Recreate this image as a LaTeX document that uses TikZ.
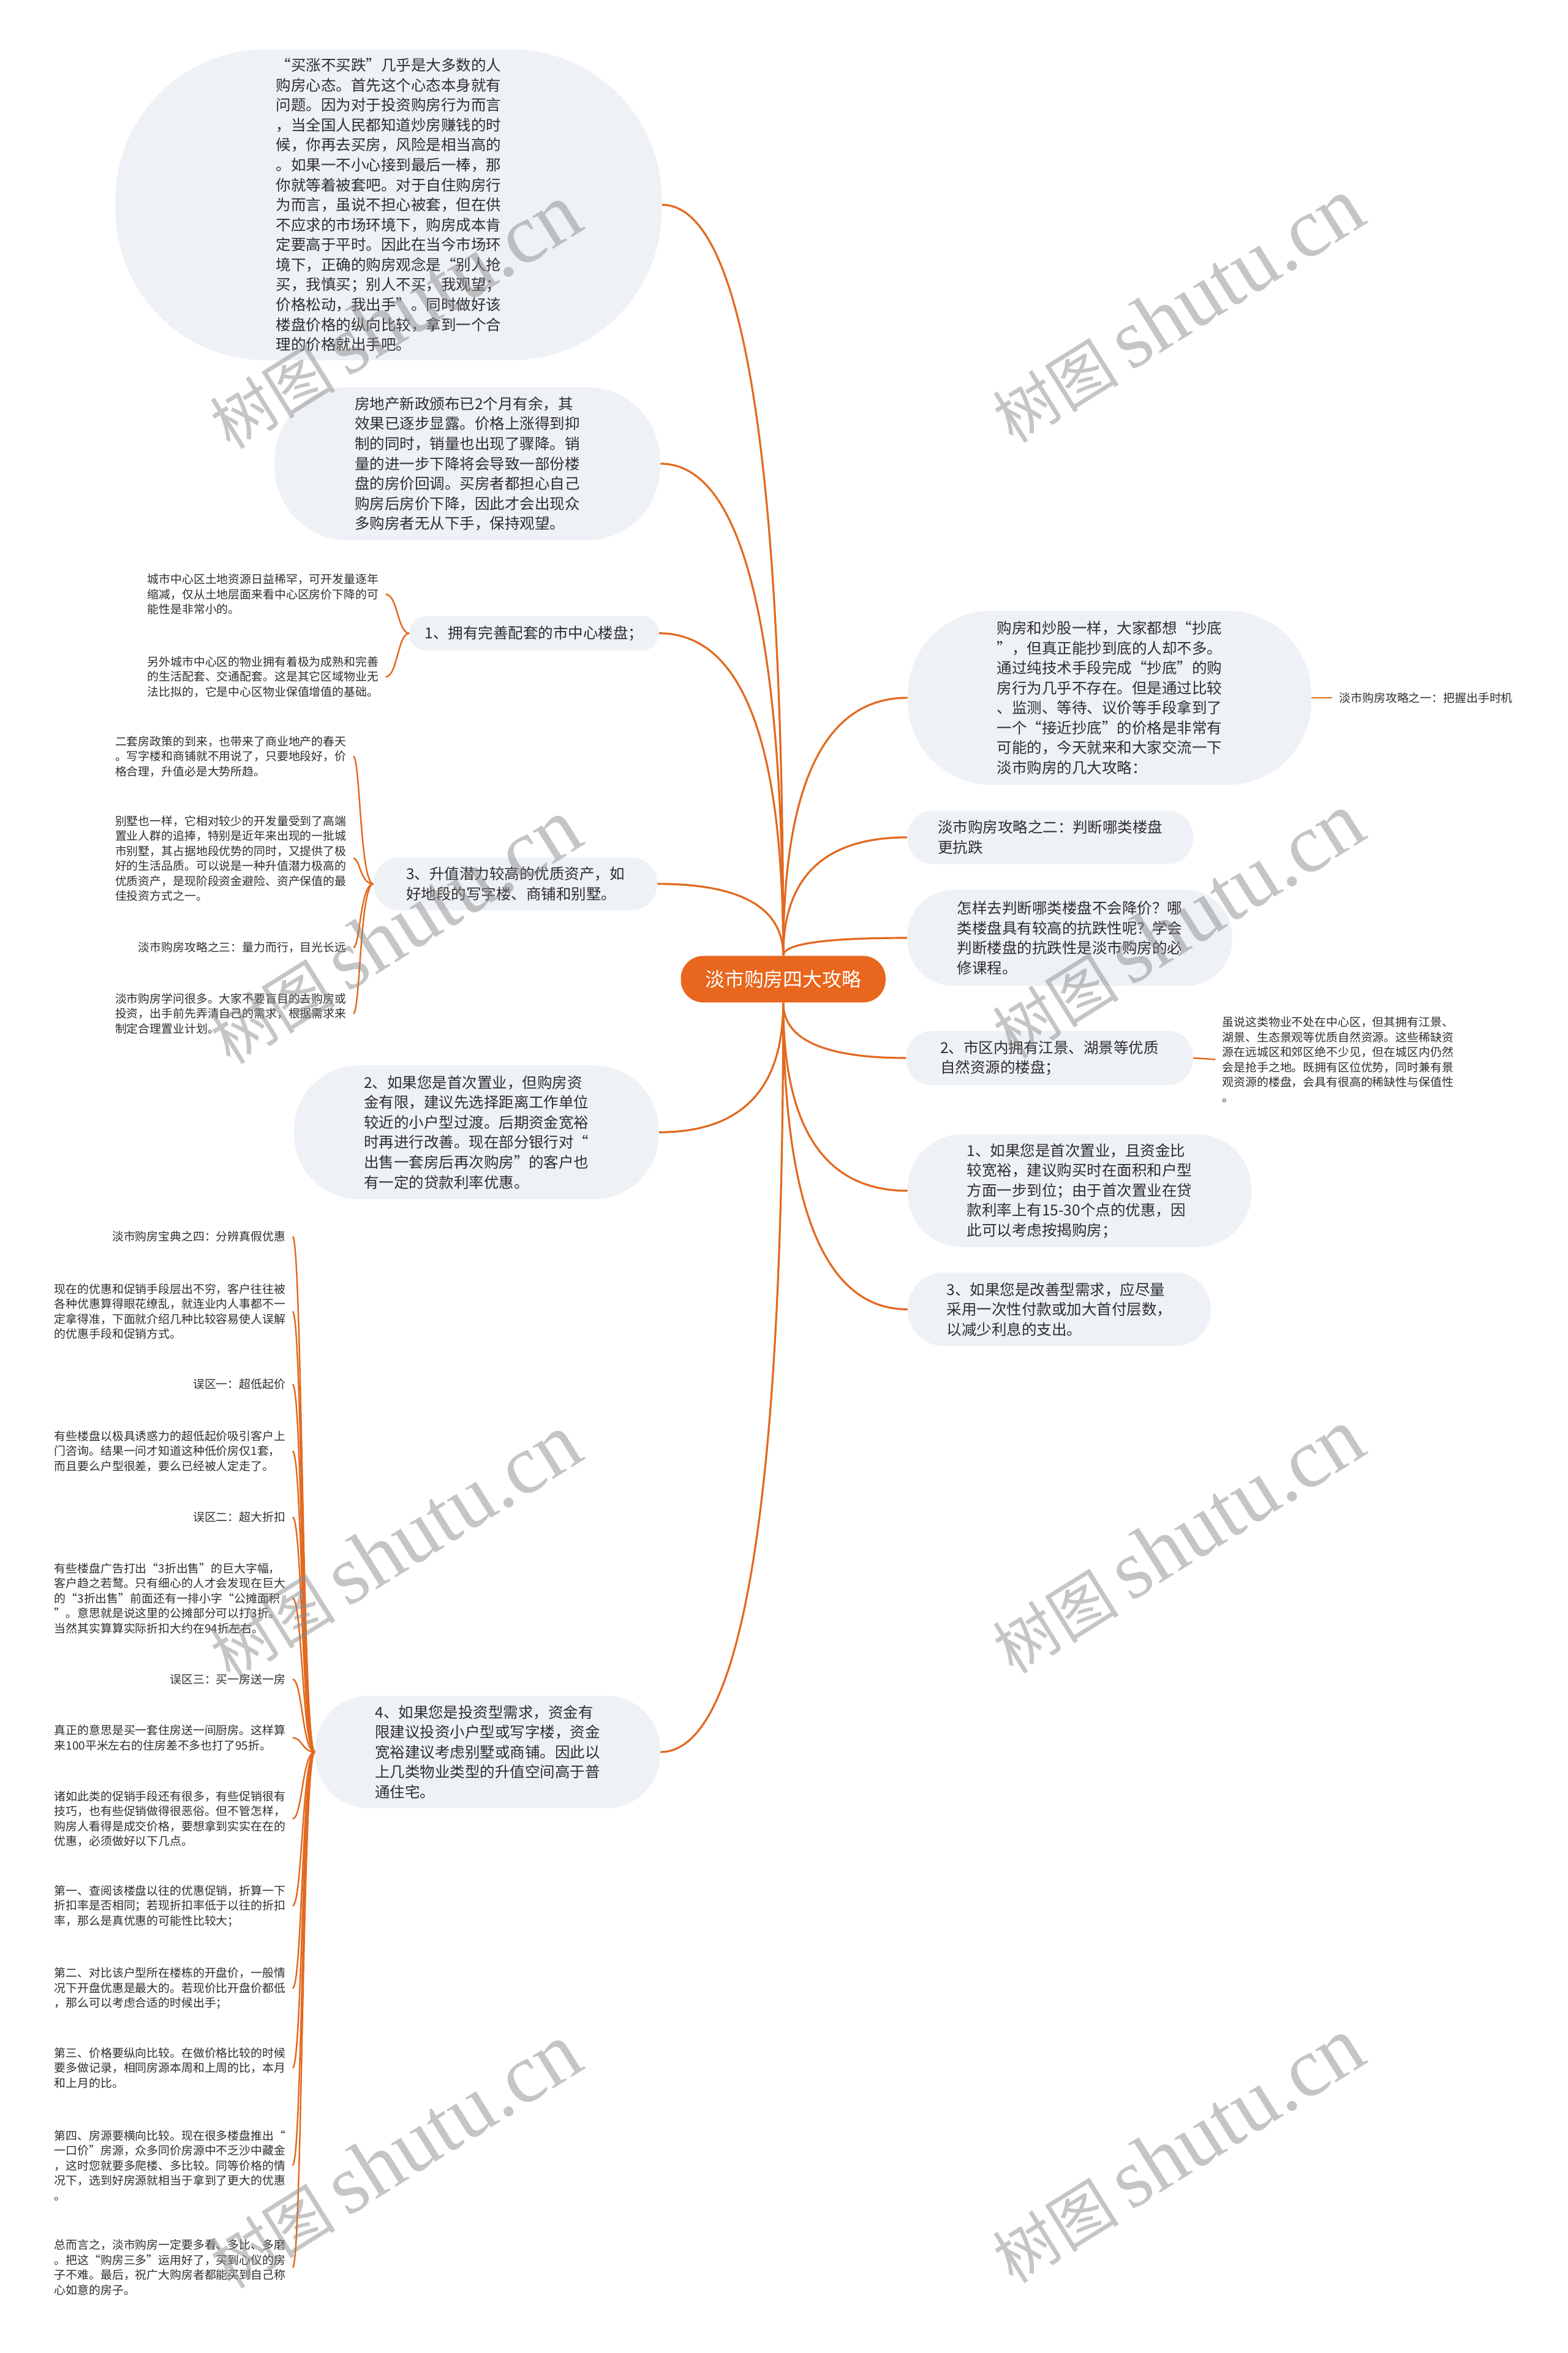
\documentclass[tikz,border=0pt]{standalone}
\usepackage{fontspec}
\setmainfont{Noto Sans CJK SC}
\newfontfamily\wmlatin{Liberation Serif}
\usetikzlibrary{calc}
\definecolor{orangeM}{HTML}{E8661E}
\definecolor{lineO}{HTML}{E2691F}
\definecolor{bubF}{HTML}{EEF1F5}
\definecolor{txtC}{HTML}{2E2E2E}
\tikzset{
  bubble/.style={fill=bubF, text=txtC, align=left, inner sep=0pt, font=\fontsize{10}{13.3}\selectfont},
  leafL/.style={text=txtC, align=left, inner xsep=4.5pt, inner ysep=0pt, anchor=east, font=\fontsize{7.7}{10}\selectfont},
  leafR/.style={leafL, anchor=west},
  conn/.style={draw=lineO, line width=1.3pt},
  brk/.style={draw=lineO, line width=1pt},
  qc/.style={to path={.. controls ($(\tikztostart)!0.6667!(\tikztostart |- \tikztotarget)$) and ($(\tikztotarget)!0.6667!(\tikztostart |- \tikztotarget)$) .. (\tikztotarget)}},
  bk/.style={to path={.. controls (#1) and (#1 |- \tikztotarget) .. (\tikztotarget)}},
  wmark/.style={text=black!45, text opacity=0.5, rotate=32, inner sep=0pt}
}
\newcommand{\wmtext}{{\fontsize{42}{42}\selectfont 树图}\hspace{8pt}{\wmlatin\fontsize{56}{56}\selectfont shutu.cn}}
\begin{document}
\begin{tikzpicture}[x=1pt,y=1pt]
\fill[white] (0,0) rectangle (1045,-1568);
\useasboundingbox (0,0) rectangle (1045,-1568);

% center
\node[fill=orangeM, text=white, rounded corners=15pt, minimum width=136.5pt, minimum height=31pt, inner sep=0pt, font=\fontsize{13}{15}\selectfont] (C) at (522,-652.5) {淡市购房四大攻略};

% left main nodes
\node[bubble, minimum width=364pt, minimum height=207pt, rounded corners=100pt] (L1) at (259,-136.5) {“买涨不买跌”几乎是大多数的人\\购房心态。首先这个心态本身就有\\问题。因为对于投资购房行为而言\\，当全国人民都知道炒房赚钱的时\\候，你再去买房，风险是相当高的\\。如果一不小心接到最后一棒，那\\你就等着被套吧。对于自住购房行\\为而言，虽说不担心被套，但在供\\不应求的市场环境下，购房成本肯\\定要高于平时。因此在当今市场环\\境下，正确的购房观念是“别人抢\\买，我慎买；别人不买，我观望；\\价格松动，我出手”。同时做好该\\楼盘价格的纵向比较，拿到一个合\\理的价格就出手吧。};

\node[bubble, minimum width=257pt, minimum height=102pt, rounded corners=49pt] (L2) at (311.5,-309) {房地产新政颁布已2个月有余，其\\效果已逐步显露。价格上涨得到抑\\制的同时，销量也出现了骤降。销\\量的进一步下降将会导致一部份楼\\盘的房价回调。买房者都担心自己\\购房后房价下降，因此才会出现众\\多购房者无从下手，保持观望。};

\node[bubble, minimum width=166pt, minimum height=23pt, rounded corners=11pt] (L3) at (356,-422) {1、拥有完善配套的市中心楼盘；};

\node[bubble, minimum width=189pt, minimum height=35pt, rounded corners=17pt] (L4) at (343.5,-589) {3、升值潜力较高的优质资产，如\\好地段的写字楼、商铺和别墅。};

\node[bubble, minimum width=243pt, minimum height=89pt, rounded corners=43pt] (L5) at (317.5,-754.5) {2、如果您是首次置业，但购房资\\金有限，建议先选择距离工作单位\\较近的小户型过渡。后期资金宽裕\\时再进行改善。现在部分银行对“\\出售一套房后再次购房”的客户也\\有一定的贷款利率优惠。};

\node[bubble, minimum width=230pt, minimum height=75pt, rounded corners=36pt] (L6) at (325,-1167.5) {4、如果您是投资型需求，资金有\\限建议投资小户型或写字楼，资金\\宽裕建议考虑别墅或商铺。因此以\\上几类物业类型的升值空间高于普\\通住宅。};

% right main nodes
\node[bubble, minimum width=269pt, minimum height=116pt, rounded corners=56pt] (R1) at (739.5,-465) {购房和炒股一样，大家都想“抄底\\”，但真正能抄到底的人却不多。\\通过纯技术手段完成“抄底”的购\\房行为几乎不存在。但是通过比较\\、监测、等待、议价等手段拿到了\\一个“接近抄底”的价格是非常有\\可能的，今天就来和大家交流一下\\淡市购房的几大攻略：};

\node[bubble, minimum width=190.5pt, minimum height=35.5pt, rounded corners=17pt] (R2) at (700,-558) {淡市购房攻略之二：判断哪类楼盘\\更抗跌};

\node[bubble, minimum width=216.5pt, minimum height=64pt, rounded corners=31pt] (R3) at (713,-625) {怎样去判断哪类楼盘不会降价？哪\\类楼盘具有较高的抗跌性呢？学会\\判断楼盘的抗跌性是淡市购房的必\\修课程。};

\node[bubble, minimum width=191pt, minimum height=36pt, rounded corners=17pt] (R4) at (699.5,-705) {2、市区内拥有江景、湖景等优质\\自然资源的楼盘；};

\node[bubble, minimum width=229pt, minimum height=75pt, rounded corners=36pt] (R5) at (719.5,-793.5) {1、如果您是首次置业，且资金比\\较宽裕，建议购买时在面积和户型\\方面一步到位；由于首次置业在贷\\款利率上有15-30个点的优惠，因\\此可以考虑按揭购房；};

\node[bubble, minimum width=202pt, minimum height=49pt, rounded corners=24pt] (R6) at (706,-872.5) {3、如果您是改善型需求，应尽量\\采用一次性付款或加大首付层数，\\以减少利息的支出。};

% right leaves
\node[leafR] (r1a) at (888,-465) {淡市购房攻略之一：把握出手时机};
\node[leafR] (r4a) at (810,-706) {虽说这类物业不处在中心区，但其拥有江景、\\湖景、生态景观等优质自然资源。这些稀缺资\\源在远城区和郊区绝不少见，但在城区内仍然\\会是抢手之地。既拥有区位优势，同时兼有景\\观资源的楼盘，会具有很高的稀缺性与保值性\\。};

% L3 leaves
\node[leafL] (b1) at (257,-396) {城市中心区土地资源日益稀罕，可开发量逐年\\缩减，仅从土地层面来看中心区房价下降的可\\能性是非常小的。};
\node[leafL] (b2) at (257,-451) {另外城市中心区的物业拥有着极为成熟和完善\\的生活配套、交通配套。这是其它区域物业无\\法比拟的，它是中心区物业保值增值的基础。};

% L4 leaves
\node[leafL] (c1) at (235.5,-504) {二套房政策的到来，也带来了商业地产的春天\\。写字楼和商铺就不用说了，只要地段好，价\\格合理，升值必是大势所趋。};
\node[leafL] (c2) at (235.5,-572) {别墅也一样，它相对较少的开发量受到了高端\\置业人群的追捧，特别是近年来出现的一批城\\市别墅，其占据地段优势的同时，又提供了极\\好的生活品质。可以说是一种升值潜力极高的\\优质资产，是现阶段资金避险、资产保值的最\\佳投资方式之一。};
\node[leafL] (c3) at (235.5,-631.5) {淡市购房攻略之三：量力而行，目光长远};
\node[leafL] (c4) at (235.5,-675.5) {淡市购房学问很多。大家不要盲目的去购房或\\投资，出手前先弄清自己的需求，根据需求来\\制定合理置业计划。};

% L6 leaves
\node[leafL] (a1) at (195,-824) {淡市购房宝典之四：分辨真假优惠};
\node[leafL] (a2) at (195,-874) {现在的优惠和促销手段层出不穷，客户往往被\\各种优惠算得眼花缭乱，就连业内人事都不一\\定拿得准，下面就介绍几种比较容易使人误解\\的优惠手段和促销方式。};
\node[leafL] (a3) at (195,-922.5) {误区一：超低起价};
\node[leafL] (a4) at (195,-967) {有些楼盘以极具诱惑力的超低起价吸引客户上\\门咨询。结果一问才知道这种低价房仅1套，\\而且要么户型很差，要么已经被人定走了。};
\node[leafL] (a5) at (195,-1011) {误区二：超大折扣};
\node[leafL] (a6) at (195,-1065) {有些楼盘广告打出“3折出售”的巨大字幅，\\客户趋之若鹜。只有细心的人才会发现在巨大\\的“3折出售”前面还有一排小字“公摊面积\\”。意思就是说这里的公摊部分可以打3折。\\当然其实算算实际折扣大约在94折左右。};
\node[leafL] (a7) at (195,-1119) {误区三：买一房送一房};
\node[leafL] (a8) at (195,-1158) {真正的意思是买一套住房送一间厨房。这样算\\来100平米左右的住房差不多也打了95折。};
\node[leafL] (a9) at (195,-1212) {诸如此类的促销手段还有很多，有些促销很有\\技巧，也有些促销做得很恶俗。但不管怎样，\\购房人看得是成交价格，要想拿到实实在在的\\优惠，必须做好以下几点。};
\node[leafL] (a10) at (195,-1270) {第一、查阅该楼盘以往的优惠促销，折算一下\\折扣率是否相同；若现折扣率低于以往的折扣\\率，那么是真优惠的可能性比较大；};
\node[leafL] (a11) at (195,-1325) {第二、对比该户型所在楼栋的开盘价，一般情\\况下开盘优惠是最大的。若现价比开盘价都低\\，那么可以考虑合适的时候出手；};
\node[leafL] (a12) at (195,-1378) {第三、价格要纵向比较。在做价格比较的时候\\要多做记录，相同房源本周和上周的比，本月\\和上月的比。};
\node[leafL] (a13) at (195,-1443) {第四、房源要横向比较。现在很多楼盘推出“\\一口价”房源，众多同价房源中不乏沙中藏金\\，这时您就要多爬楼、多比较。同等价格的情\\况下，选到好房源就相当于拿到了更大的优惠\\。};
\node[leafL] (a14) at (195,-1511) {总而言之，淡市购房一定要多看、多比、多磨\\。把这“购房三多”运用好了，买到心仪的房\\子不难。最后，祝广大购房者都能买到自己称\\心如意的房子。};

% spine coordinates
\coordinate (s3) at (265,-422);
\coordinate (s4) at (240,-589);
\coordinate (s6) at (201.5,-1167.5);

% main connectors
\foreach \n in {L1,L2,L3,L4} \draw[conn] (C.north) to[qc] (\n.east);
\foreach \n in {R1,R2,R3} \draw[conn] (C.north) to[qc] (\n.west);
\foreach \n in {L5,L6} \draw[conn] (C.south) to[qc] (\n.east);
\foreach \n in {R4,R5,R6} \draw[conn] (C.south) to[qc] (\n.west);

% leaf connectors
\draw[brk] (R1.east) -- (r1a.west);
\draw[brk] (R4.east) -- (r4a.west);
\foreach \n in {b1,b2} \draw[brk] (L3.west) to[bk=s3] (\n.east);
\foreach \n in {c1,c2,c3,c4} \draw[brk] (L4.west) to[bk=s4] (\n.east);
\foreach \i in {1,...,14} \draw[brk] (L6.west) to[bk=s6] (a\i.east);

% watermarks
\node[wmark] (w1) at (263,-211) {\wmtext};
\node[wmark] (w2) at (785,-207) {\wmtext};
\node[wmark] (w3) at (263,-621) {\wmtext};
\node[wmark] (w4) at (785,-617) {\wmtext};
\node[wmark] (w5) at (263,-1031) {\wmtext};
\node[wmark] (w6) at (785,-1027) {\wmtext};
\node[wmark] (w7) at (263,-1437) {\wmtext};
\node[wmark] (w8) at (785,-1433) {\wmtext};
\end{tikzpicture}
\end{document}
